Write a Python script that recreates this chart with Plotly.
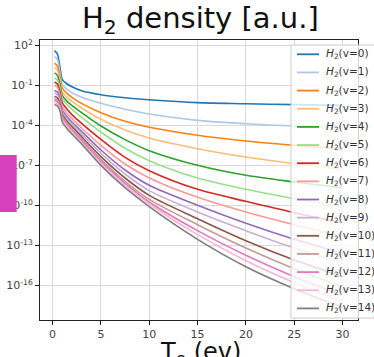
import plotly.graph_objects as go

# Electron temperature grid (eV)
T_e = [0.2, 0.5, 0.8, 1.0, 1.5, 2, 3, 5, 7.5, 10, 15, 20, 25, 30]

# log10 of H2(v) density [a.u.]
logn_v0  = [1.60, 1.35, 0.20, -0.55, -0.90, -1.10, -1.40, -1.70, -1.93, -2.08, -2.30, -2.38, -2.45, -2.50]
logn_v1  = [1.15, 0.95, -0.20, -0.95, -1.30, -1.55, -1.90, -2.35, -2.80, -3.15, -3.63, -3.88, -4.05, -4.18]
logn_v2  = [0.67, 0.45, -0.50, -1.20, -1.60, -1.90, -2.35, -3.05, -3.70, -4.15, -4.75, -5.18, -5.50, -5.78]
logn_v3  = [0.33, 0.15, -0.80, -1.50, -1.90, -2.20, -2.70, -3.55, -4.35, -4.95, -5.75, -6.38, -6.88, -7.30]
logn_v4  = [-0.07, -0.25, -1.05, -1.75, -2.20, -2.50, -3.05, -4.05, -5.07, -5.90, -7.00, -7.75, -8.25, -8.70]
logn_v5  = [-0.45, -0.60, -1.30, -2.00, -2.45, -2.80, -3.40, -4.50, -5.72, -6.65, -7.95, -8.80, -9.50, -10.10]
logn_v6  = [-0.75, -0.90, -1.60, -2.30, -2.80, -3.20, -3.85, -5.05, -6.40, -7.40, -8.80, -9.70, -10.55, -11.30]
logn_v7  = [-1.00, -1.15, -1.85, -2.60, -3.10, -3.50, -4.20, -5.50, -6.90, -7.95, -9.40, -10.50, -11.45, -12.30]
logn_v8  = [-1.38, -1.50, -2.10, -2.85, -3.35, -3.75, -4.45, -5.85, -7.35, -8.50, -10.00, -11.35, -12.55, -13.60]
logn_v9  = [-1.57, -1.70, -2.30, -3.05, -3.55, -3.95, -4.65, -6.10, -7.65, -8.90, -10.50, -11.90, -13.20, -14.35]
logn_v10 = [-1.82, -1.95, -2.45, -3.20, -3.70, -4.10, -4.85, -6.35, -7.95, -9.25, -11.00, -12.65, -14.10, -15.35]
logn_v11 = [-2.00, -2.10, -2.60, -3.35, -3.85, -4.25, -5.00, -6.55, -8.20, -9.55, -11.45, -13.20, -14.75, -16.10]
logn_v12 = [-2.10, -2.25, -2.75, -3.50, -4.00, -4.40, -5.15, -6.70, -8.35, -9.75, -11.90, -13.75, -15.35, -16.75]
logn_v13 = [-2.25, -2.40, -2.85, -3.60, -4.10, -4.50, -5.30, -6.85, -8.50, -9.90, -12.20, -14.15, -15.80, -17.25]
logn_v14 = [-2.43, -2.55, -3.00, -3.75, -4.25, -4.65, -5.40, -7.00, -8.68, -10.10, -12.55, -14.60, -16.25, -17.65]

series = [logn_v0, logn_v1, logn_v2, logn_v3, logn_v4, logn_v5, logn_v6, logn_v7,
          logn_v8, logn_v9, logn_v10, logn_v11, logn_v12, logn_v13, logn_v14]
labels = ["<i>H</i><sub>2</sub>(v=%d)" % i for i in range(15)]

x_ticks = [0, 5, 10, 15, 20, 25, 30]
y_tick_exp = [2, -1, -4, -7, -10, -13, -16]

colors = ["#1f77b4", "#aec7e8", "#ff7f0e", "#ffbb78", "#2ca02c", "#98df8a",
          "#d62728", "#ff9896", "#9467bd", "#c5b0d5", "#8c564b", "#c49c94",
          "#e377c2", "#f7b6d2", "#7f7f7f"]

W, H = 374, 357
L, R, TOP, BOT = 40, 358, 40, 320   # plot area in pixels
PW, PH = R - L, BOT - TOP


def px_x(p):
    return (p - L) / PW


def px_y(p):
    return (BOT - p) / PH


fig = go.Figure()
for vals, lab, col in zip(series, labels, colors):
    fig.add_trace(go.Scatter(
        x=T_e, y=[10 ** v for v in vals], mode="lines", name=lab, showlegend=False,
        line=dict(color=col, width=1.6, shape="spline", smoothing=0.8)))

font = "DejaVu Sans"
fig.update_layout(
    width=W, height=H,
    margin=dict(l=L, r=W - R, t=TOP, b=H - BOT, autoexpand=False),
    paper_bgcolor="white", plot_bgcolor="white",
    font=dict(family=font, color="#333"),
    showlegend=False,
)
fig.update_xaxes(
    range=[-1.3, 31.6], tickvals=x_ticks, ticktext=[str(t) for t in x_ticks],
    showgrid=True, gridcolor="#dadada", gridwidth=1.2,
    showline=True, linecolor="#222", linewidth=1, mirror=True,
    ticks="outside", ticklen=4, tickcolor="#222", tickfont=dict(size=11, color="#444"),
    zeroline=False, automargin=False,
)
fig.update_yaxes(
    type="log", range=[-18.6, 2.4],
    tickvals=[10.0 ** e for e in y_tick_exp],
    ticktext=["10<sup>%d</sup>" % e for e in y_tick_exp],
    showgrid=True, gridcolor="#dadada", gridwidth=1.2,
    showline=True, linecolor="#222", linewidth=1, mirror=True,
    ticks="outside", ticklen=4, tickcolor="#222", tickfont=dict(size=11, color="#444"),
    zeroline=False, automargin=False,
)

# Title and x-axis label
fig.add_annotation(text="H<sub>2</sub> density [a.u.]", xref="paper", yref="paper",
                   x=px_x(200), y=px_y(20), xanchor="center", yanchor="middle",
                   showarrow=False, font=dict(size=29, color="#111", family=font))
fig.add_annotation(text="T<sub>e</sub> (ev)", xref="paper", yref="paper",
                   x=px_x(200), y=px_y(336), xanchor="center", yanchor="top",
                   showarrow=False, font=dict(size=24, color="#111", family=font))

# Legend (matplotlib-style box inside the axes, upper right)
fig.add_shape(type="rect", xref="paper", yref="paper",
              x0=px_x(291), x1=px_x(390), y0=px_y(318), y1=px_y(45),
              fillcolor="rgba(255,255,255,0.8)", line=dict(color="#cccccc", width=1),
              layer="above")
for i, (lab, col) in enumerate(zip(labels, colors)):
    yc = 54.3 + 18.15 * i
    fig.add_shape(type="line", xref="paper", yref="paper",
                  x0=px_x(297), x1=px_x(319), y0=px_y(yc), y1=px_y(yc),
                  line=dict(color=col, width=1.8), layer="above")
    fig.add_annotation(text=lab, xref="paper", yref="paper", x=px_x(323.5), y=px_y(yc),
                       xanchor="left", yanchor="middle", showarrow=False,
                       font=dict(size=10.5, color="#333", family=font))

fig.add_shape(type="rect", xref="paper", yref="paper", x0=px_x(0), x1=px_x(16.7),
              y0=px_y(212), y1=px_y(155), fillcolor="#d63fbe", line=dict(width=0),
              layer="above")

fig.write_html("out.html", config={"displayModeBar": False},
               post_script="document.body.style.margin='0';"
                           "document.body.style.overflow='hidden';")
